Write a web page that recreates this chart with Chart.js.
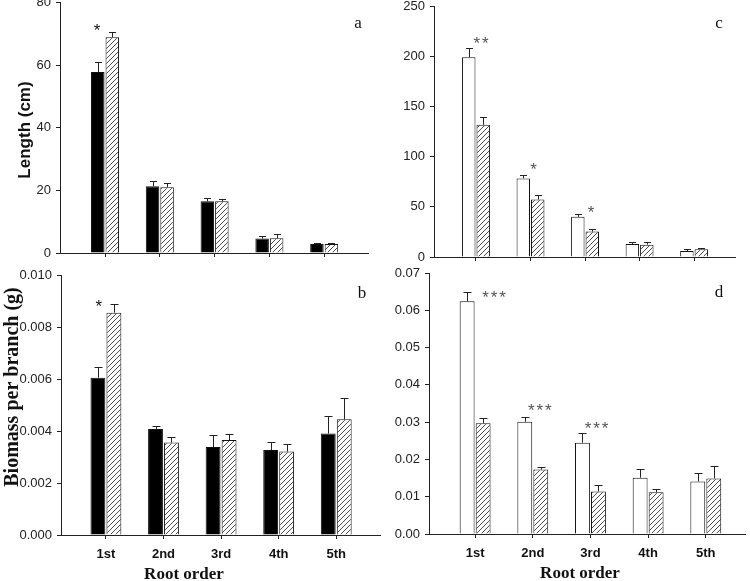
<!DOCTYPE html>
<html><head><meta charset="utf-8">
<script src="https://cdn.jsdelivr.net/npm/chart.js@4.4.0/dist/chart.umd.min.js"></script>
<style>
html,body{margin:0;padding:0;background:#fff;width:750px;height:581px;overflow:hidden;position:relative}
canvas{position:absolute;left:-30px;top:-30px}
</style>
</head><body>
<canvas id="pa" width="810" height="641"></canvas>
<canvas id="pb" width="810" height="641"></canvas>
<canvas id="pc" width="810" height="641"></canvas>
<canvas id="pd" width="810" height="641"></canvas>
<script>
// ---------- data ----------
const categories = ['1st', '2nd', '3rd', '4th', '5th'];

// panel a: Length (cm)
const aSolid      = [57.8, 21.3, 16.5, 4.6, 2.9];
const aSolidErr   = [3.2, 1.7, 1.2, 0.9, 0.2];
const aHatched    = [68.9, 21.0, 16.5, 4.7, 2.9];
const aHatchedErr = [1.8, 1.3, 0.8, 1.3, 0.2];
const aTicks = ['0', '20', '40', '60', '80'];
const aSig = ['*', '', '', '', ''];

// panel b: Biomass per branch (g)
const bSolid      = [0.00605, 0.00408, 0.00338, 0.00327, 0.0039];
const bSolidErr   = [0.0004, 0.0001, 0.00046, 0.00031, 0.00066];
const bHatched    = [0.00855, 0.00356, 0.00365, 0.00321, 0.00445];
const bHatchedErr = [0.00032, 0.0002, 0.00025, 0.0003, 0.00083];
const bTicks = ['0.000', '0.002', '0.004', '0.006', '0.008', '0.010'];
const bSig = ['*', '', '', '', ''];

// panel c: length
const cOpen       = [199, 78.3, 40, 13, 6];
const cOpenErr    = [8.7, 3.7, 3.3, 2.3, 1.7];
const cHatched    = [131.7, 57.3, 25.3, 12.3, 7.7];
const cHatchedErr = [7.3, 4.7, 3.0, 2.4, 1.3];
const cTicks = ['0', '50', '100', '150', '200', '250'];
const cSig = ['**', '*', '*', '', ''];

// panel d: biomass
const dOpen       = [0.0624, 0.0301, 0.0245, 0.0151, 0.0141];
const dOpenErr    = [0.0025, 0.0014, 0.0027, 0.0024, 0.0023];
const dHatched    = [0.0297, 0.0173, 0.0114, 0.0112, 0.0149];
const dHatchedErr = [0.0013, 0.0006, 0.0018, 0.0009, 0.0033];
const dTicks = ['0.00', '0.01', '0.02', '0.03', '0.04', '0.05', '0.06', '0.07'];
const dSig = ['***', '***', '***', '', ''];

// ---------- drawing ----------
const M = 30, CW = 750 + 2 * M, CH = 581 + 2 * M;
const AXIS = '#222';
const SANS = 'Arial, "Liberation Sans", sans-serif';
const SERIF = '"Times New Roman", "Liberation Serif", serif';

function hatch(ctx) {
  const c = document.createElement('canvas');
  c.width = 5; c.height = 5;
  const g = c.getContext('2d');
  g.fillStyle = '#fff'; g.fillRect(0, 0, 5, 5);
  g.strokeStyle = '#3a3a3a'; g.lineWidth = 0.9;
  g.beginPath();
  g.moveTo(0, 5); g.lineTo(5, 0);
  g.moveTo(-1, 1); g.lineTo(1, -1);
  g.moveTo(4, 6); g.lineTo(6, 4);
  g.stroke();
  return ctx.createPattern(c, 'repeat');
}

function makePanel(id, p) {
  const cv = document.getElementById(id);
  const ctx = cv.getContext('2d');
  const Wy = 50, Hx = 45;
  const A = p.area;
  const tickVals = p.ticks.map(Number);
  const datasets = p.series.map(s => ({
    data: s.values.map((v, i) => ({ x: i, y: v })),
    backgroundColor: s.fill === 'hatch' ? hatch(ctx) : s.fill,
    borderColor: '#111', borderWidth: 1,
    categoryPercentage: p.cp, barPercentage: p.bp
  }));
  const extras = {
    id: 'extras_' + id,
    afterDatasetsDraw(chart) {
      const g = chart.ctx, xs = chart.scales.x, ys = chart.scales.y;
      g.save();
      g.strokeStyle = '#222'; g.lineWidth = 1;
      p.series.forEach((s, di) => {
        const meta = chart.getDatasetMeta(di);
        meta.data.forEach((el, i) => {
          const x = Math.round(el.x) + 0.5;
          const y0 = el.y;
          const y1 = Math.round(ys.getPixelForValue(s.values[i] + s.errs[i])) + 0.5;
          g.beginPath();
          g.moveTo(x, y0); g.lineTo(x, y1);
          g.moveTo(x - p.cap / 2, y1); g.lineTo(x + p.cap / 2, y1);
          g.stroke();
        });
      });
      // significance stars
      g.fillStyle = p.star.color;
      g.font = p.star.font;
      g.textAlign = 'center';
      g.textBaseline = 'alphabetic';
      p.sig.forEach((lab, i) => {
        if (!lab) return;
        let top = Infinity;
        p.series.forEach(s => { top = Math.min(top, ys.getPixelForValue(s.values[i] + s.errs[i])); });
        const xc = xs.getPixelForValue(i) + p.star.dx[i];
        const yc = top + p.star.dy[i];
        const n = lab.length;
        for (let k = 0; k < n; k++) {
          const xk = xc + (k - (n - 1) / 2) * p.star.gap;
          g.fillText(lab[k], xk, yc + p.star.base);
        }
      });
      g.restore();
    },
    afterDraw(chart) {
      const g = chart.ctx;
      g.save();
      g.fillStyle = '#111';
      // panel letter
      g.font = '17px ' + SERIF;
      g.textAlign = 'center'; g.textBaseline = 'alphabetic';
      g.fillText(p.letter.text, p.letter.x + M, p.letter.y + M);
      // y title
      if (p.yTitle) {
        g.save();
        g.translate(p.yTitle.x + M, p.yTitle.y + M);
        g.rotate(-Math.PI / 2);
        g.font = p.yTitle.font;
        g.textAlign = 'center'; g.textBaseline = 'middle';
        g.fillText(p.yTitle.text, 0, 0);
        g.restore();
      }
      if (p.xTitle) {
        g.font = 'bold 17px ' + SERIF;
        g.textAlign = 'center'; g.textBaseline = 'alphabetic';
        g.fillText(p.xTitle.text, p.xTitle.x + M, p.xTitle.y + M);
      }
      g.restore();
    }
  };
  new Chart(ctx, {
    type: 'bar',
    data: { datasets },
    options: {
      responsive: false, animation: false, devicePixelRatio: 1,
      layout: { padding: { left: A.l + M - Wy, top: A.t + M, right: CW - (A.r + M), bottom: CH - (A.b + M) - Hx } },
      plugins: { legend: { display: false }, tooltip: { enabled: false } },
      scales: {
        x: {
          type: 'linear', min: p.xr[0], max: p.xr[1], offset: false,
          afterBuildTicks: s => { s.ticks = categories.map((c, i) => ({ value: i })); },
          afterFit: s => { s.height = Hx; },
          grid: { display: true, offset: false, drawOnChartArea: false, drawTicks: true, tickLength: 4, color: AXIS, lineWidth: 1 },
          border: { display: true, color: AXIS, width: 1 },
          ticks: {
            display: p.showX, autoSkip: false, maxRotation: 0, padding: 8,
            callback: (v, i) => categories[i],
            font: { family: SANS, weight: 'bold', size: 13 }, color: '#111'
          }
        },
        y: {
          min: tickVals[0], max: tickVals[tickVals.length - 1],
          afterBuildTicks: s => { s.ticks = tickVals.map(v => ({ value: v })); },
          afterFit: s => { s.width = Wy; },
          grid: { display: true, offset: false, drawOnChartArea: false, drawTicks: true, tickLength: 4, color: AXIS, lineWidth: 1 },
          border: { display: true, color: AXIS, width: 1 },
          ticks: {
            padding: 5, callback: (v, i) => p.ticks[i],
            font: { family: SANS, size: 13 }, color: '#222'
          }
        }
      }
    },
    plugins: [extras]
  });
}

const starSans = { font: '17px ' + SANS, color: '#111', gap: 9, base: 9 };
const starGray = { font: '17px ' + SANS, color: '#555', gap: 8.5, base: 9 };

makePanel('pa', {
  area: { l: 60, t: 2.5, r: 368, b: 253 }, xr: [-0.822, 4.80],
  ticks: aTicks, cp: 0.53, bp: 0.93, cap: 7, showX: false,
  series: [{ values: aSolid, errs: aSolidErr, fill: '#000' }, { values: aHatched, errs: aHatchedErr, fill: 'hatch' }],
  sig: aSig, star: Object.assign({ dx: [-8, 0, 0, 0, 0], dy: [-5, 0, 0, 0, 0] }, starSans),
  letter: { text: 'a', x: 358, y: 28 },
  yTitle: { text: 'Length (cm)', font: 'bold 17px ' + SANS, x: 25, y: 130 }
});
makePanel('pb', {
  area: { l: 61, t: 275, r: 380, b: 535 }, xr: [-0.78, 4.76],
  ticks: bTicks, cp: 0.555, bp: 0.93, cap: 8, showX: true,
  series: [{ values: bSolid, errs: bSolidErr, fill: '#000' }, { values: bHatched, errs: bHatchedErr, fill: 'hatch' }],
  sig: bSig, star: Object.assign({ dx: [-7, 0, 0, 0, 0], dy: [-1, 0, 0, 0, 0] }, starSans),
  letter: { text: 'b', x: 362, y: 298 },
  yTitle: { text: 'Biomass per branch (g)', font: 'bold 20px ' + SERIF, x: 13, y: 387 },
  xTitle: { text: 'Root order', x: 184, y: 579 }
});
makePanel('pc', {
  area: { l: 434, t: 6, r: 735, b: 257 }, xr: [-0.77, 4.75],
  ticks: cTicks, cp: 0.53, bp: 0.93, cap: 7, showX: false,
  series: [{ values: cOpen, errs: cOpenErr, fill: '#fff' }, { values: cHatched, errs: cHatchedErr, fill: 'hatch' }],
  sig: cSig, star: Object.assign({ dx: [5, 3, 6, 0, 0], dy: [-8.5, -8.7, -4.5, 0, 0] }, starGray),
  letter: { text: 'c', x: 719, y: 28 }
});
makePanel('pd', {
  area: { l: 429, t: 273, r: 745, b: 534 }, xr: [-0.80, 4.68],
  ticks: dTicks, cp: 0.555, bp: 0.93, cap: 8, showX: true,
  series: [{ values: dOpen, errs: dOpenErr, fill: '#fff' }, { values: dHatched, errs: dHatchedErr, fill: 'hatch' }],
  sig: dSig, star: Object.assign({ dx: [19, 7, 6, 0, 0], dy: [2, -10, -8, 0, 0] }, starGray),
  letter: { text: 'd', x: 719, y: 297 },
  xTitle: { text: 'Root order', x: 580, y: 578 }
});
</script>
</body></html>
